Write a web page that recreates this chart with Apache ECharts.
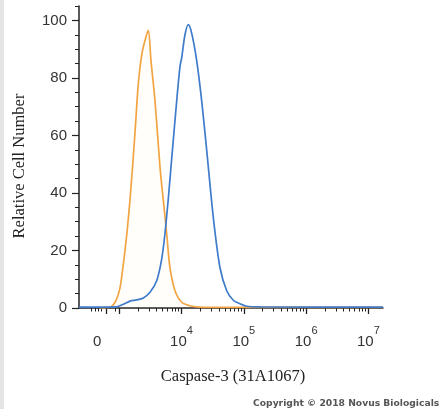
<!DOCTYPE html>
<html>
<head>
<meta charset="utf-8">
<script src="https://cdn.jsdelivr.net/npm/echarts@6/dist/echarts.min.js"></script>
<style>
html,body{margin:0;padding:0;background:#fff;}
#chart{width:439px;height:409px;}
</style>
</head>
<body>
<div id="chart"></div>
<script>
// x coordinate: display position in decades (biexponential-like axis), 10^n at n
var isotypeX = [2.692, 2.852, 2.900, 2.957, 3.013, 3.053, 3.093, 3.133, 3.173, 3.214, 3.254, 3.307, 3.361, 3.414, 3.467, 3.510, 3.575, 3.655, 3.708, 3.762, 3.815, 3.896, 4.003, 4.136, 4.297, 4.618, 5.2, 7.234];
var isotypeY = [0.0, 0.3, 1.0, 3.0, 7.0, 13.0, 20.0, 28.0, 37.5, 49.0, 61.0, 78.0, 88.0, 93.0, 96.5, 86.0, 72.0, 49.0, 37.5, 26.0, 14.0, 6.0, 2.0, 0.8, 0.3, 0.2, 0.2, 0.2];

var caspaseX = [2.355, 2.692, 2.960, 3.067, 3.174, 3.281, 3.387, 3.494, 3.602, 3.682, 3.735, 3.788, 3.843, 3.923, 3.976, 4.003, 4.056, 4.109, 4.164, 4.244, 4.324, 4.404, 4.510, 4.618, 4.726, 4.831, 4.939, 5.047, 5.260, 7.234];
var caspaseY = [0.3, 0.3, 0.4, 1.3, 2.4, 2.8, 3.5, 5.5, 9.5, 17.0, 26.0, 38.0, 52.0, 72.0, 84.0, 87.0, 95.0, 98.5, 95.5, 86.0, 72.0, 55.0, 31.6, 14.0, 6.0, 2.7, 1.5, 0.6, 0.4, 0.3];

var xLabelPos = [2.648, 4, 5, 6, 7];
var xLabelText = ['0', '10^4', '10^5', '10^6', '10^7'];
var yLabels = [0, 20, 40, 60, 80, 100];
var yMinor = [5, 10, 15, 25, 30, 35, 45, 50, 55, 65, 70, 75, 85, 90, 95, 105];
var xMajorTicks = [2.80, 3, 4, 5, 6, 7];
var xNearZeroTicks = [2.559, 2.612, 2.66, 2.716, 2.944];

function zip(a, b) { return a.map(function (v, i) { return [v, b[i]]; }); }
function logMinor() {
  var out = xNearZeroTicks.slice();
  for (var d = 3; d <= 6; d++) {
    for (var k = 2; k <= 9; k++) out.push(d + Math.log10(k));
  }
  return out;
}

var chart = echarts.init(document.getElementById('chart'), null, {renderer: 'canvas'});
var X_MIN = 2.355, X_MAX = 7.234;
var gridBox = {left: 79, right: 56, top: 6, bottom: 101};

var option = {
  animation: false,
  backgroundColor: '#ffffff',
  title: {
    text: 'Copyright \u00A9 2018 Novus Biologicals',
    left: 248, top: 394,
    textStyle: {fontFamily: 'DejaVu Sans', fontSize: 9.2, fontWeight: 'bold', color: '#555'}
  },
  graphic: [{type: 'rect', left: 0, top: 0, shape: {width: 4, height: 409}, style: {fill: '#e4e4e4'}, silent: true}],
  grid: [Object.assign({}, gridBox), Object.assign({}, gridBox)],
  xAxis: [{
    type: 'value', gridIndex: 0, min: X_MIN, max: X_MAX,
    name: 'Caspase-3 (31A1067)', nameLocation: 'middle', nameGap: 60,
    nameTextStyle: {fontFamily: 'Liberation Serif', fontSize: 16.5, color: '#222', padding: [0, 0, 0, 4]},
    axisLine: {show: true, onZero: false, lineStyle: {color: '#222', width: 1.5}},
    axisTick: {show: true, customValues: xMajorTicks, length: 6, lineStyle: {color: '#222', width: 1.3}},
    axisLabel: {
      show: true, customValues: xLabelPos, margin: 17,
      formatter: function (v) {
        var best = 0, bd = 1e9;
        for (var i = 0; i < xLabelPos.length; i++) { var d = Math.abs(xLabelPos[i] - v); if (d < bd) { bd = d; best = i; } }
        var t = xLabelText[best];
        if (t.indexOf('^') > 0) { var p = t.split('^'); return '{b|' + p[0] + '}{s|' + p[1] + '}'; }
        return '{b|' + t + '}';
      },
      rich: {
        b: {fontFamily: 'Liberation Sans', fontSize: 15, color: '#333', lineHeight: 24, verticalAlign: 'bottom'},
        s: {fontFamily: 'Liberation Sans', fontSize: 11, color: '#333', lineHeight: 24, verticalAlign: 'top'}
      }
    },
    splitLine: {show: false}
  }, {
    type: 'value', gridIndex: 1, min: X_MIN, max: X_MAX,
    axisLine: {show: false, onZero: false},
    axisTick: {show: true, customValues: logMinor(), length: 3.5, lineStyle: {color: '#222', width: 1}},
    axisLabel: {show: false},
    splitLine: {show: false}
  }],
  yAxis: [{
    type: 'value', gridIndex: 0, min: 0, max: 105,
    name: 'Relative Cell Number', nameLocation: 'middle', nameGap: 51,
    nameTextStyle: {fontFamily: 'Liberation Serif', fontSize: 16.5, color: '#222', padding: [0, 18, 0, 0]},
    axisLine: {show: true, onZero: false, lineStyle: {color: '#222', width: 1.5}},
    axisTick: {show: true, customValues: yLabels, length: 7, lineStyle: {color: '#222', width: 1.2}},
    axisLabel: {show: true, customValues: yLabels, margin: 12, fontFamily: 'Liberation Sans', fontSize: 15, color: '#333'},
    splitLine: {show: false}
  }, {
    type: 'value', gridIndex: 1, min: 0, max: 105,
    axisLine: {show: false, onZero: false},
    axisTick: {show: true, customValues: yMinor, length: 4, lineStyle: {color: '#222', width: 1}},
    axisLabel: {show: false},
    splitLine: {show: false}
  }],
  series: [{
    name: 'Isotype', type: 'line', xAxisIndex: 0, yAxisIndex: 0,
    data: zip(isotypeX, isotypeY), showSymbol: false, smooth: 0.3,
    lineStyle: {color: '#F2A443', width: 1.7},
    areaStyle: {color: 'rgba(255,225,160,0.06)'},
    z: 3
  }, {
    name: 'Caspase-3', type: 'line', xAxisIndex: 0, yAxisIndex: 0,
    data: zip(caspaseX, caspaseY), showSymbol: false, smooth: 0.3,
    lineStyle: {color: '#3F7BCB', width: 1.7},
    z: 4
  }]
};
chart.setOption(option);
</script>
</body>
</html>
